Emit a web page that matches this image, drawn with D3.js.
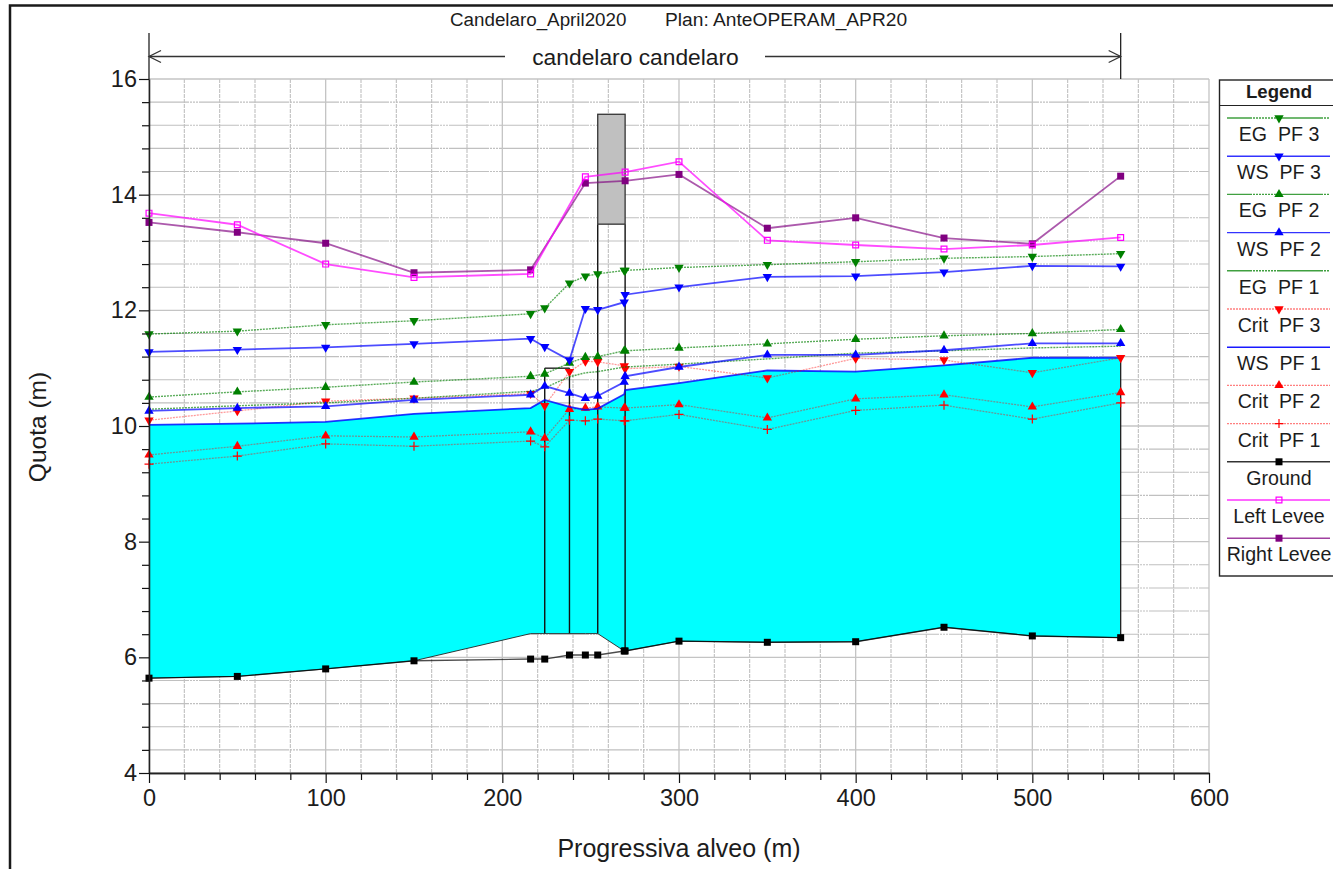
<!DOCTYPE html>
<html>
<head>
<meta charset="utf-8">
<script src="https://cdn.jsdelivr.net/npm/d3@7"></script>
<style>
  html, body { margin: 0; padding: 0; background: #fff; overflow: hidden; }
  text { font-family: "Liberation Sans", Arial, sans-serif; fill: #1c1c1c; }
</style>
</head>
<body>
<div id="demo"></div>
<script>
// stations along the channel (m), 269 / 269.5 are the two faces of the bridge
let stations = [0, 50, 100, 150, 216, 224, 238, 247, 254, 269, 269.5, 300, 350, 400, 450, 500, 550];
let egPf3 = [11.59, 11.64, 11.75, 11.82, 11.94, 12.04, 12.47, 12.59, 12.63, 12.69, 12.69, 12.74, 12.79, 12.84, 12.90, 12.93, 12.98];
let wsPf3 = [11.28, 11.32, 11.36, 11.42, 11.51, 11.37, 11.14, 12.03, 12.01, 12.14, 12.27, 12.40, 12.58, 12.59, 12.66, 12.77, 12.76];
let egPf2 = [10.50, 10.59, 10.67, 10.76, 10.86, 10.90, 11.09, 11.19, 11.20, 11.30, 11.30, 11.35, 11.42, 11.50, 11.56, 11.60, 11.67];
let wsPf2 = [10.26, 10.31, 10.34, 10.45, 10.54, 10.69, 10.57, 10.48, 10.52, 10.76, 10.86, 11.02, 11.23, 11.23, 11.31, 11.43, 11.43];
let egPf1 = [10.29, 10.35, 10.40, 10.48, 10.60, 10.66, 10.85, 10.92, 10.94, 11.02, 11.02, 11.07, 11.16, 11.26, 11.30, 11.35, 11.38];
let critPf3 = [10.10, 10.26, 10.43, 10.48, 10.56, 10.35, 10.94, 11.12, 11.11, 11.04, 10.99, 11.03, 10.83, 11.17, 11.14, 10.92, 11.18];
let wsPf1 = [10.02, 10.04, 10.07, 10.21, 10.31, 10.45, 10.33, 10.28, 10.30, 10.55, 10.62, 10.74, 10.96, 10.94, 11.05, 11.18, 11.18];
let critPf2 = [9.50, 9.65, 9.83, 9.81, 9.90, 9.79, 10.29, 10.31, 10.33, 10.31, 10.31, 10.37, 10.14, 10.47, 10.54, 10.33, 10.58];
let critPf1 = [9.34, 9.48, 9.69, 9.65, 9.74, 9.64, 10.10, 10.09, 10.12, 10.09, 10.09, 10.20, 9.94, 10.27, 10.36, 10.12, 10.40];
let ground = [5.64, 5.67, 5.80, 5.94, 5.97, 5.97, 6.04, 6.04, 6.04, 6.11, 6.11, 6.28, 6.26, 6.27, 6.52, 6.37, 6.34];
// bottom of the water fill (ineffective area under the bridge)
let fillBottom = [5.64, 5.67, 5.80, 5.94, 6.41, 6.41, 6.41, 6.41, 6.41, 6.11, 6.11, 6.28, 6.26, 6.27, 6.52, 6.37, 6.34];

// the levees are only surveyed at some of the stations
let leveeStations = [0, 50, 100, 150, 216, 247, 269.5, 300, 350, 400, 450, 500, 550];
let leftLevee = [13.68, 13.48, 12.80, 12.57, 12.63, 14.31, 14.39, 14.57, 13.21, 13.13, 13.06, 13.13, 13.26];
let rightLevee = [13.52, 13.35, 13.16, 12.65, 12.70, 14.20, 14.24, 14.35, 13.42, 13.60, 13.25, 13.15, 14.32];

// bridge and piers
let deckStations = [254, 269.5];
let deckLevels = [13.49, 15.39];
let pierStations = [224, 238, 254, 269.5];
let pierBottoms = [6.41, 6.41, 6.41, 6.11];
let pierTops = [11.0, 11.0, 13.49, 13.49];
let capStations = [224, 238];
let capLevel = 11.0;

let xMajor = [0, 100, 200, 300, 400, 500, 600];
let xMinor = [20, 40, 60, 80, 120, 140, 160, 180, 220, 240, 260, 280, 320, 340, 360, 380, 420, 440, 460, 480, 520, 540, 560, 580];
let yMajor = [4, 6, 8, 10, 12, 14, 16];
let yMinor = [4.4, 4.8, 5.2, 5.6, 6.4, 6.8, 7.2, 7.6, 8.4, 8.8, 9.2, 9.6, 10.4, 10.8, 11.2, 11.6, 12.4, 12.8, 13.2, 13.6, 14.4, 14.8, 15.2, 15.6];

let series = [
    {name: "EG  PF 3", x: stations, y: egPf3, color: "#008000", dash: "2,1", marker: "down", op: 0.65, sw: 1.4},
    {name: "WS  PF 3", x: stations, y: wsPf3, color: "#0000ff", dash: null, marker: "down", op: 0.7, sw: 1.8},
    {name: "EG  PF 2", x: stations, y: egPf2, color: "#008000", dash: "2,1", marker: "up", op: 0.65, sw: 1.4},
    {name: "WS  PF 2", x: stations, y: wsPf2, color: "#0000ff", dash: null, marker: "up", op: 0.7, sw: 1.8},
    {name: "EG  PF 1", x: stations, y: egPf1, color: "#008000", dash: "2,1", marker: null, op: 0.65, sw: 1.4},
    {name: "Crit  PF 3", x: stations, y: critPf3, color: "#ff0000", dash: "2,1", marker: "down", op: 0.4, sw: 1.3},
    {name: "WS  PF 1", x: stations, y: wsPf1, color: "#0000ff", dash: null, marker: null, op: 0.8, sw: 1.8},
    {name: "Crit  PF 2", x: stations, y: critPf2, color: "#ff0000", dash: "2,1", marker: "up", op: 0.4, sw: 1.3},
    {name: "Crit  PF 1", x: stations, y: critPf1, color: "#ff0000", dash: "2,1", marker: "plus", op: 0.4, sw: 1.3},
    {name: "Ground", x: stations, y: ground, color: "#000000", dash: null, marker: "square", op: 0.7, sw: 1.4},
    {name: "Left Levee", x: leveeStations, y: leftLevee, color: "#ff00ff", dash: null, marker: "open", op: 0.7, sw: 1.8},
    {name: "Right Levee", x: leveeStations, y: rightLevee, color: "#800080", dash: null, marker: "filled", op: 0.65, sw: 1.8}
];

// the green legend samples show long solid runs with dotted stretches
let egLegendDash = "25 1 2 1 2 1 2 1 2 1 2 1 2 1 2 1 2 1 46 1 2 1 2 1 2";

let w = 1333;
let h = 869;
let m = {top: 79, right: 124, bottom: 96, left: 149};

let x = d3.scaleLinear().domain([0, 600]).range([m.left, w - m.right]);
let y = d3.scaleLinear().domain([4, 16]).range([h - m.bottom, m.top]);

let svg = d3.select("#demo")
    .append("svg")
    .attr("width", w)
    .attr("height", h);

// outer frame (cut by the page edge on the right and bottom)
svg.append("path")
    .attr("d", "M10," + h + "V5.5H" + w)
    .attr("fill", "none")
    .attr("stroke", "#1a1a1a")
    .attr("stroke-width", 2.5);

// grid
let grid = svg.append("g").attr("fill", "none");
const gridLines = (vals, vertical, dash, color, sw) => {
    grid.selectAll(null)
        .data(vals)
        .enter()
        .append("line")
        .attr("x1", (d) => vertical ? x(d) : x(0))
        .attr("x2", (d) => vertical ? x(d) : x(600))
        .attr("y1", (d) => vertical ? y(4) : y(d))
        .attr("y2", (d) => vertical ? y(16) : y(d))
        .attr("stroke", color)
        .attr("stroke-width", sw)
        .attr("stroke-dasharray", dash);
};
gridLines(xMinor, true, "4,1", "#c0c0c0", 1.1);
gridLines(yMinor, false, "40,1,2,1,2,1,2,1", "#c0c0c0", 1.1);
gridLines(xMajor, true, null, "#c4c4c4", 1.3);
gridLines(yMajor, false, null, "#c4c4c4", 1.3);

// water
let fillData = stations.map((s, i) => ({s: s, top: wsPf1[i], bot: fillBottom[i]}));
svg.append("path")
    .datum(fillData)
    .attr("fill", "#00ffff")
    .attr("d", d3.area().x((d) => x(d.s)).y0((d) => y(d.bot)).y1((d) => y(d.top)));

svg.append("path")
    .datum(fillData)
    .attr("fill", "none")
    .attr("stroke", "#222")
    .attr("stroke-width", 0.9)
    .attr("d", d3.line().x((d) => x(d.s)).y((d) => y(d.bot)));

// right bank of the reach
svg.append("line")
    .attr("x1", x(550)).attr("x2", x(550))
    .attr("y1", y(wsPf1[wsPf1.length - 1])).attr("y2", y(ground[ground.length - 1]))
    .attr("stroke", "#222").attr("stroke-width", 1.3);

// piers and deck
svg.selectAll(".pier")
    .data(pierStations)
    .enter()
    .append("line")
    .attr("class", "pier")
    .attr("x1", (d) => x(d)).attr("x2", (d) => x(d))
    .attr("y1", (d, i) => y(pierBottoms[i])).attr("y2", (d, i) => y(pierTops[i]))
    .attr("stroke", "#111").attr("stroke-width", 1.4);

svg.append("line")
    .attr("x1", x(capStations[0])).attr("x2", x(capStations[1]))
    .attr("y1", y(capLevel)).attr("y2", y(capLevel))
    .attr("stroke", "#111").attr("stroke-width", 1.3);

svg.append("rect")
    .attr("x", x(deckStations[0]))
    .attr("y", y(deckLevels[1]))
    .attr("width", x(deckStations[1]) - x(deckStations[0]))
    .attr("height", y(deckLevels[0]) - y(deckLevels[1]))
    .attr("fill", "#c0c0c0")
    .attr("stroke", "#333")
    .attr("stroke-width", 1.3);

// marker shapes
const triUp = d3.symbol().type(d3.symbolTriangle).size(38)();
const square = d3.symbol().type(d3.symbolSquare).size(49)();
const drawMarker = (sel, s, tx, ty) => {
    if (!s.marker) return;
    let p = sel.append("path").attr("transform", "translate(" + tx + "," + ty + ")");
    if (s.marker === "up") p.attr("d", triUp).attr("fill", s.color);
    if (s.marker === "down") p.attr("d", triUp).attr("fill", s.color).attr("transform", "translate(" + tx + "," + ty + ") rotate(180)");
    if (s.marker === "plus") p.attr("d", "M-4.5,0H4.5M0,-4.5V4.5").attr("stroke", s.color).attr("stroke-width", 1.2).attr("fill", "none");
    if (s.marker === "square") p.attr("d", square).attr("fill", "#000");
    if (s.marker === "filled") p.attr("d", square).attr("fill", s.color);
    if (s.marker === "open") p.attr("d", d3.symbol().type(d3.symbolSquare).size(34)()).attr("fill", "none").attr("stroke", s.color).attr("stroke-width", 1.2);
};

// series, last in the legend is drawn first
let lineGen = d3.line().x((d) => x(d[0])).y((d) => y(d[1]));
series.slice().reverse().forEach((s) => {
    let g = svg.append("g");
    let pts = s.x.map((v, i) => [v, s.y[i]]);
    g.append("path")
        .datum(pts)
        .attr("fill", "none")
        .attr("stroke", s.color)
        .attr("stroke-opacity", s.op)
        .attr("stroke-width", s.sw)
        .attr("stroke-dasharray", s.dash)
        .attr("d", lineGen);
    pts.forEach((p) => drawMarker(g, s, x(p[0]), y(p[1])));
});

// axes
const styleAxis = (g) => {
    g.select(".domain").attr("stroke", "#222").attr("stroke-width", 1.3);
    g.selectAll(".tick line").attr("stroke", "#111").attr("stroke-width", 1.2);
    g.selectAll("text").attr("font-size", 23.5).attr("font-family", "Liberation Sans").attr("fill", "#1c1c1c");
};

svg.append("g")
    .attr("transform", "translate(" + m.left + ",0)")
    .call(d3.axisLeft(y).tickValues(yMinor).tickSize(7).tickFormat("").tickSizeOuter(0))
    .call(styleAxis);
svg.append("g")
    .attr("transform", "translate(" + m.left + ",0)")
    .call(d3.axisLeft(y).tickValues(yMajor).tickSize(10).tickPadding(2).tickFormat(d3.format("d")).tickSizeOuter(0))
    .call(styleAxis);
svg.append("g")
    .attr("transform", "translate(0," + (h - m.bottom) + ")")
    .call(d3.axisBottom(x).tickValues(xMinor).tickSize(7).tickFormat("").tickSizeOuter(0))
    .call(styleAxis);
svg.append("g")
    .attr("transform", "translate(0," + (h - m.bottom) + ")")
    .call(d3.axisBottom(x).tickValues(xMajor).tickSize(10).tickPadding(6).tickFormat(d3.format("d")).tickSizeOuter(0))
    .call(styleAxis);

// y axis runs up past the 16 tick, to the reach bar
svg.append("line")
    .attr("x1", m.left).attr("x2", m.left)
    .attr("y1", 33).attr("y2", y(16))
    .attr("stroke", "#222").attr("stroke-width", 1.3);
svg.append("line")
    .attr("x1", x(550)).attr("x2", x(550))
    .attr("y1", 33).attr("y2", y(16))
    .attr("stroke", "#222").attr("stroke-width", 1.3);

// axis titles
svg.append("text")
    .attr("x", 679).attr("y", 857)
    .attr("text-anchor", "middle")
    .attr("font-size", 25)
    .text("Progressiva alveo (m)");
svg.append("text")
    .attr("transform", "translate(46,427) rotate(-90)")
    .attr("text-anchor", "middle")
    .attr("font-size", 24.5)
    .text("Quota (m)");

// header
svg.append("text").attr("x", 450).attr("y", 26).attr("font-size", 18.8).text("Candelaro_April2020");
svg.append("text").attr("x", 665).attr("y", 26).attr("font-size", 19.2).text("Plan: AnteOPERAM_APR20");

// reach bar with open arrow heads
let barY = 56.5;
let bar = svg.append("g").attr("fill", "none").attr("stroke", "#333").attr("stroke-width", 1.3);
bar.append("path").attr("d", "M" + x(0) + "," + barY + "H505");
bar.append("path").attr("d", "M765," + barY + "H" + x(550));
bar.append("path").attr("d", "M" + (x(0) + 12) + "," + (barY - 6) + "L" + x(0) + "," + barY + "L" + (x(0) + 12) + "," + (barY + 6));
bar.append("path").attr("d", "M" + (x(550) - 12) + "," + (barY - 6) + "L" + x(550) + "," + barY + "L" + (x(550) - 12) + "," + (barY + 6));
svg.append("text")
    .attr("x", 635.5).attr("y", 65)
    .attr("text-anchor", "middle")
    .attr("font-size", 22.8)
    .text("candelaro candelaro");

// legend
let legend = svg.append("g");
legend.append("rect")
    .attr("x", 1219.5).attr("y", 80)
    .attr("width", 130).attr("height", 496)
    .attr("fill", "#fff").attr("stroke", "#222").attr("stroke-width", 1.4);
legend.append("line")
    .attr("x1", 1219.5).attr("x2", w)
    .attr("y1", 105.5).attr("y2", 105.5)
    .attr("stroke", "#222").attr("stroke-width", 1.2);
legend.append("text")
    .attr("x", 1279).attr("y", 98)
    .attr("text-anchor", "middle")
    .attr("font-size", 18.6)
    .attr("font-weight", "bold")
    .text("Legend");

series.forEach((s, i) => {
    let ly = 118 + i * 38.2;
    legend.append("line")
        .attr("x1", 1227).attr("x2", 1330)
        .attr("y1", ly).attr("y2", ly)
        .attr("stroke", s.color)
        .attr("stroke-opacity", Math.min(s.op + 0.1, 1))
        .attr("stroke-width", 1.4)
        .attr("stroke-dasharray", s.color === "#008000" ? egLegendDash : s.dash);
    drawMarker(legend, s, 1279, ly);
    legend.append("text")
        .attr("x", 1279).attr("y", ly + 23)
        .attr("text-anchor", "middle")
        .attr("font-size", 19.6)
        .style("white-space", "pre")
        .text(s.name);
});
</script>
</body>
</html>
